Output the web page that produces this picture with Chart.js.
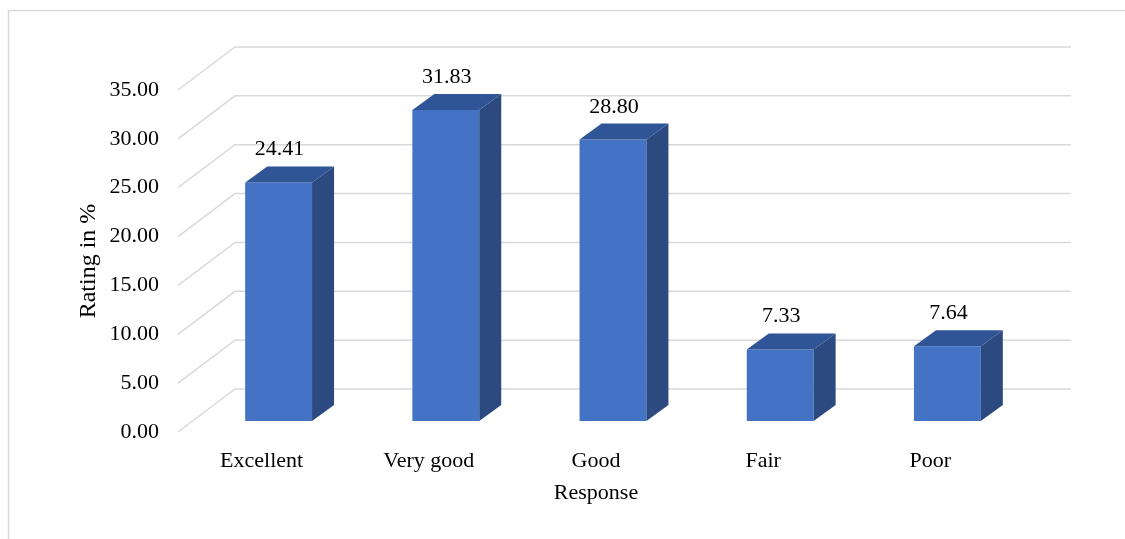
<!DOCTYPE html>
<html>
<head>
<meta charset="utf-8">
<script src="https://cdn.jsdelivr.net/npm/chart.js@4.4.1/dist/chart.umd.min.js"></script>
<style>
  html, body { margin: 0; padding: 0; background: #fff; }
  #caixa { width: 1125px; height: 539px; position: relative; }
</style>
</head>
<body>
<div id="caixa"><canvas id="graficoBarras3d"></canvas></div>
<script>
// Chart data
const categorias = ['Excellent', 'Very good', 'Good', 'Fair', 'Poor'];
const valores = [24.41, 31.83, 28.80, 7.33, 7.64];
const eixoMin = 0;
const eixoMax = 35;
const passoEixo = 5;

// 3D look (Excel-like)
const fonte = "'Liberation Serif', 'Times New Roman', serif";
const corFrente = '#4472C4';
const corTopo = '#305597';
const corLado = '#2C4A80';
const corGrade = '#d9d9d9';
const paredeFundo = { dx: 57, dy: -43 };  // offset of the back wall
const recuoBarra = { dx: 17, dy: -11 };   // bars stand a bit inside the floor
const fundoBarra = { dx: 22, dy: -16 };   // depth of each bar

const efeito3d = {
    id: 'efeito3d',
    beforeDraw(chart) {
        // outer chart border (only top and left are in the picture)
        const ctx = chart.ctx;
        ctx.save();
        ctx.strokeStyle = corGrade;
        ctx.lineWidth = 1.5;
        ctx.beginPath();
        ctx.moveTo(8.5, chart.height);
        ctx.lineTo(8.5, 10.5);
        ctx.lineTo(chart.width, 10.5);
        ctx.stroke();
        ctx.restore();
    },
    beforeDatasetsDraw(chart) {
        const ctx = chart.ctx;
        const eixoY = chart.scales.y;
        const area = chart.chartArea;

        // gridlines: diagonal on the side wall + horizontal on the back wall
        ctx.save();
        ctx.strokeStyle = corGrade;
        ctx.lineWidth = 1.5;
        eixoY.ticks.forEach(function (t) {
            const py = eixoY.getPixelForValue(t.value);
            ctx.beginPath();
            ctx.moveTo(area.left, py);
            ctx.lineTo(area.left + paredeFundo.dx, py + paredeFundo.dy);
            ctx.lineTo(area.right + paredeFundo.dx, py + paredeFundo.dy);
            ctx.stroke();
        });
        ctx.restore();

        // move the bar fronts into the floor
        ctx.save();
        ctx.translate(recuoBarra.dx, recuoBarra.dy);
    },
    afterDatasetsDraw(chart) {
        const ctx = chart.ctx;
        const meta = chart.getDatasetMeta(0);

        meta.data.forEach(function (barra, i) {
            const p = barra.getProps(['x', 'y', 'base', 'width'], true);
            const esq = p.x - p.width / 2;
            const dir = p.x + p.width / 2;

            // side face
            ctx.fillStyle = corLado;
            ctx.beginPath();
            ctx.moveTo(dir, p.y);
            ctx.lineTo(dir + fundoBarra.dx, p.y + fundoBarra.dy);
            ctx.lineTo(dir + fundoBarra.dx, p.base + fundoBarra.dy);
            ctx.lineTo(dir, p.base);
            ctx.closePath();
            ctx.fill();

            // top face
            ctx.fillStyle = corTopo;
            ctx.beginPath();
            ctx.moveTo(esq, p.y);
            ctx.lineTo(esq + fundoBarra.dx, p.y + fundoBarra.dy);
            ctx.lineTo(dir + fundoBarra.dx, p.y + fundoBarra.dy);
            ctx.lineTo(dir, p.y);
            ctx.closePath();
            ctx.fill();

            // value label
            ctx.fillStyle = '#000';
            ctx.font = '22px ' + fonte;
            ctx.textAlign = 'center';
            ctx.textBaseline = 'alphabetic';
            ctx.fillText(valores[i].toFixed(2), p.x + 1, p.y + fundoBarra.dy - 11);
        });

        ctx.restore();
    }
};

const config = {
    type: 'bar',
    data: {
        labels: categorias,
        datasets: [{
            label: 'Rating',
            data: valores,
            backgroundColor: corFrente,
            borderWidth: 0,
            categoryPercentage: 0.8,
            barPercentage: 0.5
        }]
    },
    options: {
        responsive: true,
        maintainAspectRatio: false,
        animation: false,
        layout: {
            padding: { left: 71, right: 111, top: 90, bottom: 28 }
        },
        plugins: {
            legend: { display: false },
            tooltip: { enabled: false }
        },
        scales: {
            x: {
                grid: { display: false, drawTicks: false },
                border: { display: false },
                afterFit: function (escala) { escala.height = 79; },
                ticks: {
                    color: '#000',
                    padding: 16,
                    maxRotation: 0,
                    font: { family: fonte, size: 22 }
                },
                title: {
                    display: true,
                    text: 'Response',
                    color: '#000',
                    padding: { top: 4, bottom: 5 },
                    font: { family: fonte, size: 22 }
                }
            },
            y: {
                min: eixoMin,
                max: eixoMax,
                grid: { display: false, drawTicks: false },
                border: { display: false },
                afterFit: function (escala) { escala.width = 107; },
                ticks: {
                    stepSize: passoEixo,
                    color: '#000',
                    padding: 19,
                    font: { family: fonte, size: 22 },
                    callback: function (v) { return Number(v).toFixed(2); }
                },
                title: {
                    display: true,
                    text: 'Rating in %',
                    color: '#000',
                    padding: { top: 3, bottom: 4 },
                    font: { family: fonte, size: 24 }
                }
            }
        }
    },
    plugins: [efeito3d]
};

new Chart(document.getElementById('graficoBarras3d'), config);
</script>
</body>
</html>
